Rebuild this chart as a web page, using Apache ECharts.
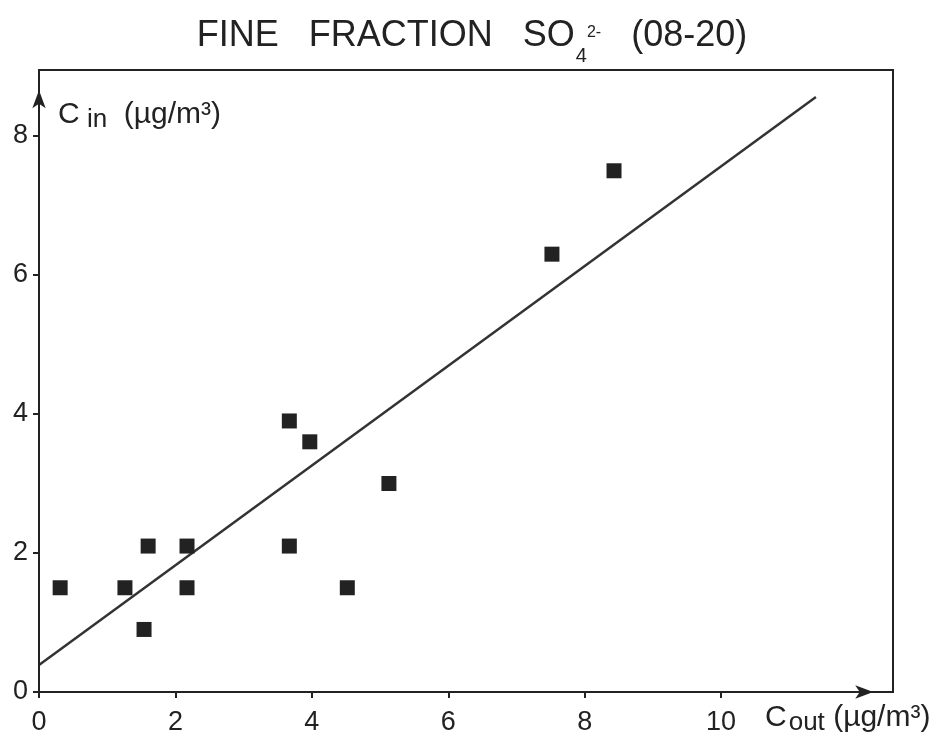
<!DOCTYPE html>
<html>
<head>
<meta charset="utf-8">
<script src="https://cdn.jsdelivr.net/npm/echarts@6/dist/echarts.min.js"></script>
<style>
html,body{margin:0;padding:0;background:#fff;}
#chart{width:944px;height:742px;}
</style>
</head>
<body>
<div id="chart"></div>
<script>
// Measured data: outdoor (x) vs indoor (y) fine-fraction sulphate concentrations
var cOut = [0.31, 1.26, 1.60, 2.17, 2.17, 1.54, 3.67, 4.52, 3.67, 3.97, 5.13, 7.52, 8.43];
var cIn  = [1.5, 1.5, 2.1, 2.1, 1.5, 0.9, 2.1, 1.5, 3.9, 3.6, 3.0, 6.3, 7.5];
// Regression line end points
var fitX = [0, 11.39];
var fitY = [0.39, 8.56];
// Axis settings
var xTicks = [0, 2, 4, 6, 8, 10];
var yTicks = [0, 2, 4, 6, 8];
var xMax = 12.52, yMax = 8.95;
var xArrowEnd = 12.23, yArrowEnd = 8.66;

var points = cOut.map(function (x, i) { return [x, cIn[i]]; });
var fitLine = fitX.map(function (x, i) { return [x, fitY[i]]; });

var FONT = '"Liberation Sans", Arial, sans-serif';
var INK = '#222';

var chart = echarts.init(document.getElementById('chart'));
chart.setOption({
  animation: false,
  backgroundColor: '#fff',
  textStyle: { fontFamily: FONT, color: INK },
  title: {
    text: '{a|FINE   FRACTION   SO}{sub|4}{sup|2-}{a|   (08-20)}',
    left: 'center',
    top: 18,
    padding: [0, 0, 0, 8],
    textStyle: {
      fontFamily: FONT,
      fontWeight: 'normal',
      rich: {
        a:   { fontSize: 36, lineHeight: 44, verticalAlign: 'top', color: INK, fontFamily: FONT, fontWeight: 'normal' },
        sub: { fontSize: 20, lineHeight: 22, padding: [28, 0, 0, 1], verticalAlign: 'top', color: INK, fontFamily: FONT, fontWeight: 'normal' },
        sup: { fontSize: 16, lineHeight: 16, padding: [7, 0, 0, 0], verticalAlign: 'top', color: INK, fontFamily: FONT, fontWeight: 'normal' }
      }
    }
  },
  grid: {
    left: 39, top: 70, right: 51, bottom: 50,
    show: true, borderColor: INK, borderWidth: 2, backgroundColor: '#fff'
  },
  xAxis: {
    type: 'value', min: 0, max: xMax, interval: 2,
    axisLine: { show: true, lineStyle: { color: INK, width: 2 } },
    axisTick: { show: true, inside: false, length: 6, customValues: xTicks, lineStyle: { color: INK, width: 2 } },
    axisLabel: { customValues: xTicks, margin: 17, fontSize: 27, color: INK, fontFamily: FONT },
    splitLine: { show: false },
    name: '{c|C}{s|out}{c| (µg/m³)}',
    nameLocation: 'end',
    nameGap: -128,
    nameTextStyle: {
      align: 'left', verticalAlign: 'top', padding: [11, 0, 0, 0],
      rich: {
        c: { fontSize: 30, lineHeight: 32, verticalAlign: 'top', color: INK, fontFamily: FONT },
        s: { fontSize: 26, lineHeight: 32, padding: [7, 0, 0, 2], verticalAlign: 'top', color: INK, fontFamily: FONT }
      }
    }
  },
  yAxis: {
    type: 'value', min: 0, max: yMax, interval: 2,
    axisLine: { show: true, lineStyle: { color: INK, width: 2 } },
    axisTick: { show: true, inside: false, length: 6, customValues: yTicks, lineStyle: { color: INK, width: 2 } },
    axisLabel: { customValues: yTicks, margin: 11, fontSize: 27, color: INK, fontFamily: FONT },
    splitLine: { show: false },
    name: '{c|C}{s| in}{c|  (µg/m³)}',
    nameLocation: 'end',
    nameGap: -30,
    nameTextStyle: {
      align: 'left', verticalAlign: 'top', padding: [0, 0, 0, 19],
      rich: {
        c: { fontSize: 30, lineHeight: 32, verticalAlign: 'top', color: INK, fontFamily: FONT },
        s: { fontSize: 26, lineHeight: 32, padding: [7, 0, 0, 0], verticalAlign: 'top', color: INK, fontFamily: FONT }
      }
    }
  },
  series: [
    {
      type: 'line',
      data: fitLine,
      symbol: 'none',
      lineStyle: { color: '#333', width: 2.5 },
      silent: true,
      z: 2
    },
    {
      type: 'scatter',
      data: points,
      symbol: 'rect',
      symbolSize: 15,
      itemStyle: { color: INK, opacity: 1 },
      z: 3,
      markLine: {
        silent: true,
        symbol: ['none', 'arrow'],
        symbolSize: [10, 18],
        label: { show: false },
        lineStyle: { color: INK, width: 2, type: 'solid' },
        emphasis: { disabled: true },
        data: [
          [{ coord: [0, 0] }, { coord: [xArrowEnd, 0] }],
          [{ coord: [0, 0] }, { coord: [0, yArrowEnd] }]
        ]
      }
    }
  ]
});
</script>
</body>
</html>
